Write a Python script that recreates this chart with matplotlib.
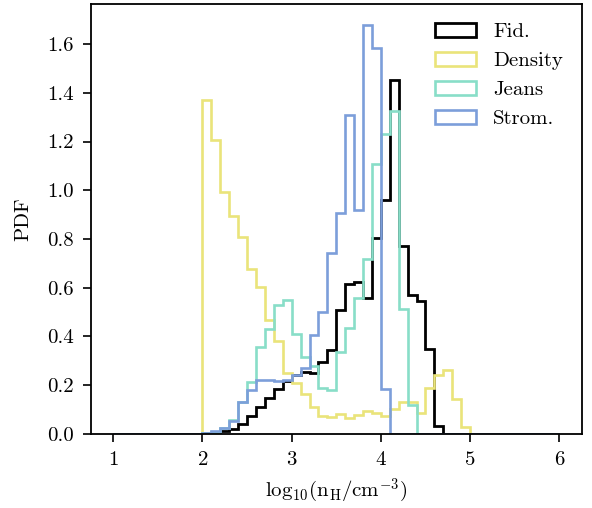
import numpy as np
import matplotlib
matplotlib.use("Agg")
import matplotlib.pyplot as plt

plt.rcParams['font.family'] = 'serif'
plt.rcParams['font.serif'] = ['cmr10']
plt.rcParams['mathtext.fontset'] = 'cm'
plt.rcParams['axes.formatter.use_mathtext'] = True
plt.rcParams['axes.unicode_minus'] = False

# bin edges in log10(n_H / cm^-3)
bin_edges = np.round(np.arange(1.0, 6.0001, 0.1), 2)

labels = ["Fid.", "Density", "Jeans", "Strom."]
colors = ["#000000", "#EAE47A", "#88DEC8", "#7C9EDA"]

# PDF values per bin starting at log n = 2.0 (bins below 2.0 are empty)
fid = [0.002, 0.005, 0.012, 0.022, 0.040, 0.073, 0.110, 0.146, 0.184, 0.216,
       0.240, 0.253, 0.250, 0.296, 0.345, 0.508, 0.617, 0.624, 0.560, 0.805,
       0.959, 1.451, 0.770, 0.570, 0.545, 0.347, 0.032]
density = [1.372, 1.205, 0.993, 0.896, 0.809, 0.676, 0.602, 0.467, 0.380, 0.251,
           0.210, 0.165, 0.111, 0.075, 0.068, 0.080, 0.064, 0.078, 0.094, 0.085,
           0.074, 0.103, 0.132, 0.132, 0.087, 0.189, 0.242, 0.264, 0.145, 0.030]
jeans = [0.002, 0.008, 0.025, 0.058, 0.133, 0.213, 0.358, 0.431, 0.528, 0.548,
         0.412, 0.316, 0.277, 0.187, 0.180, 0.335, 0.433, 0.560, 0.720, 1.107,
         1.232, 1.325, 0.511, 0.119]
strom = [0.004, 0.011, 0.026, 0.055, 0.130, 0.180, 0.222, 0.222, 0.218, 0.222,
         0.240, 0.270, 0.408, 0.499, 0.743, 0.908, 1.307, 0.918, 1.680, 1.585,
         0.183]

series = [fid, density, jeans, strom]
nbins = len(bin_edges) - 1
first_bin = 10  # index of the bin [2.0, 2.1]

FS = 15

fig = plt.figure(figsize=(5.92, 5.08), dpi=100)
ax = fig.add_axes([0.1537, 0.1457, 0.9824 - 0.1537, 0.992 - 0.1457])

centers = 0.5 * (bin_edges[:-1] + bin_edges[1:])
for vals, lab, col in zip(series, labels, colors):
    w = np.zeros(nbins)
    w[first_bin:first_bin + len(vals)] = vals
    lw = 2.0 if col == "#000000" else 1.9
    ax.hist(centers, bins=bin_edges, weights=w, histtype='step',
            color=col, lw=lw, label=lab)

ax.set_xlim(0.75, 6.25)
ax.set_ylim(0, None)
ax.set_xticks([1, 2, 3, 4, 5, 6])
ax.set_yticks(np.arange(0, 1.61, 0.2))
ax.yaxis.set_major_formatter(matplotlib.ticker.FormatStrFormatter('%.1f'))
ax.tick_params(labelsize=FS, length=6, width=1.2, direction='out', pad=6.5)
for s in ax.spines.values():
    s.set_linewidth(1.3)

ax.set_xlabel(r'$\mathrm{log}_{10}(\mathrm{n}_\mathrm{H}/\mathrm{cm}^{-3})$', fontsize=FS,
              labelpad=5)
ax.set_ylabel('PDF', fontsize=FS, labelpad=10.5)

ax.legend(loc='upper right', frameon=False, fontsize=FS)

fig.savefig('out.png', dpi=100)
